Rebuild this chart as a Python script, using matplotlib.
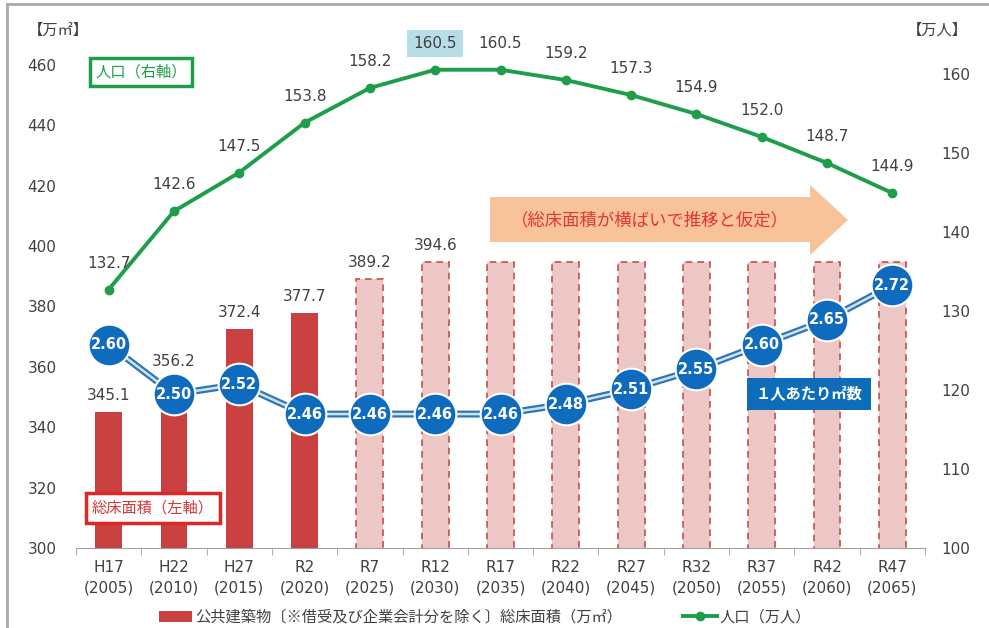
import matplotlib
matplotlib.use('Agg')
import matplotlib.pyplot as plt
from matplotlib.patches import Patch, Polygon, Rectangle
from matplotlib.lines import Line2D

# 数字は DejaVu、和文は Noto Sans CJK JP で描く
plt.rcParams['font.family'] = ['DejaVu Sans', 'Noto Sans CJK JP']

# 年度ごとのデータ
categories = ['H17\n(2005)', 'H22\n(2010)', 'H27\n(2015)', 'R2\n(2020)',
              'R7\n(2025)', 'R12\n(2030)', 'R17\n(2035)', 'R22\n(2040)',
              'R27\n(2045)', 'R32\n(2050)', 'R37\n(2055)', 'R42\n(2060)',
              'R47\n(2065)']
floor_area = [345.1, 356.2, 372.4, 377.7, 389.2, 394.6, 394.6,
              394.6, 394.6, 394.6, 394.6, 394.6, 394.6]
population = [132.7, 142.6, 147.5, 153.8, 158.2, 160.5, 160.5,
              159.2, 157.3, 154.9, 152.0, 148.7, 144.9]
per_capita = [2.60, 2.50, 2.52, 2.46, 2.46, 2.46, 2.46,
              2.48, 2.51, 2.55, 2.60, 2.65, 2.72]
n_actual = 4          # 実績値（以降は推計）
n_area_labels = 6     # 数値を表示する棒の数

W, H = 989, 628
TXT = '#404040'
RED = '#C94040'
PINK = '#EDC6C6'
GREEN = '#1E9E4A'
BLUE = '#0F6BBE'
JP = ['Noto Sans CJK JP', 'DejaVu Sans']


def px(x, y):
    """ピクセル位置を図座標に変換"""
    return x / W, 1 - y / H


fig = plt.figure(figsize=(W / 100, H / 100), dpi=100)
ax = fig.add_axes([76 / W, 1 - 548 / H, (925 - 76) / W, (548 - 65) / H])
x = list(range(len(categories)))

# 総床面積（左軸）
ax.bar(x[:n_actual], floor_area[:n_actual], width=0.41, color=RED, zorder=2)
ax.bar(x[n_actual:], floor_area[n_actual:], width=0.41, facecolor=PINK,
       edgecolor='#C0504D', linewidth=1.2, linestyle=(0, (4, 3)), zorder=2)
for i in range(n_area_labels):
    ax.annotate(f'{floor_area[i]:.1f}', (x[i], floor_area[i]),
                xytext=(0, 12), textcoords='offset points',
                ha='center', va='center', fontsize=11, color=TXT)

ax.set_xlim(-0.5, len(categories) - 0.5)
ax.set_ylim(300, 460)
ax.set_yticks(range(300, 461, 20))
ax.set_xticks(x)
ax.set_xticklabels(categories, fontsize=11, color=TXT, linespacing=1.45)
ax.set_xticks([i - 0.5 for i in range(len(categories) + 1)], minor=True)
ax.tick_params(axis='x', which='major', length=0, pad=9)
ax.tick_params(axis='x', which='minor', length=5, color='#A0A0A0')
ax.tick_params(axis='y', length=0, pad=14, labelsize=11, labelcolor=TXT)
for s in ['top', 'left', 'right']:
    ax.spines[s].set_visible(False)
ax.spines['bottom'].set_color('#A0A0A0')
ax.spines['bottom'].set_zorder(3)

# 人口（右軸）
ax2 = ax.twinx()
ax2.plot(x, population, color=GREEN, lw=2.8, marker='o', ms=6, zorder=3)
for i, v in enumerate(population):
    box = None
    if i == population.index(max(population)):
        box = dict(boxstyle='square,pad=0.4', fc='#B7DDE8', ec='none')
    ax2.annotate(f'{v:.1f}', (x[i], v), xytext=(0, 19),
                 textcoords='offset points', ha='center', va='center',
                 fontsize=11, color=TXT, bbox=box)
ax2.set_ylim(100, 161.1)
ax2.set_yticks(range(100, 161, 10))
ax2.tick_params(axis='y', length=0, pad=12, labelsize=11, labelcolor=TXT)
for s in ax2.spines.values():
    s.set_visible(False)

# 1人あたり床面積
ax3 = ax.twinx()
ax3.plot(x, per_capita, color='#2E75B6', lw=5, solid_capstyle='round', zorder=2)
ax3.plot(x, per_capita, color='#CFE2F3', lw=1.8, zorder=3)
ax3.plot(x, per_capita, ls='none', marker='o', ms=30, mfc=BLUE,
         mec='white', mew=1.5, zorder=4)
for i, v in enumerate(per_capita):
    ax3.text(x[i], v, f'{v:.2f}', ha='center', va='center', fontsize=10.5,
             fontweight='bold', color='white', zorder=5)
ax3.set_ylim(2.190, 3.1636)
ax3.axis('off')

# 単位
fig.text(*px(28, 30), '【万㎡】', fontsize=11, color=TXT, va='center', family=JP)
fig.text(*px(968, 30), '【万人】', fontsize=11, color=TXT, va='center',
         ha='right', family=JP)

# 凡例の補助ボックス
fig.text(*px(141, 72), '人口（右軸）', fontsize=11, color=GREEN,
         ha='center', va='center', family=JP,
         bbox=dict(boxstyle='square,pad=0.35', fc='white', ec=GREEN, lw=2.5))
fig.text(*px(153, 508), '総床面積（左軸）', fontsize=11, color='#D03A3A',
         ha='center', va='center', family=JP,
         bbox=dict(boxstyle='square,pad=0.4', fc='white', ec='#E02525', lw=2.5))
fig.text(*px(809, 394), '１人あたり㎡数', fontsize=11, color='white',
         fontweight='bold', ha='center', va='center', zorder=10, family=JP,
         bbox=dict(boxstyle='square,pad=0.55', fc='#0E6DB8', ec='none'))

# 推計期間の矢印
arrow_pts = [px(490, 197), px(810, 197), px(810, 185), px(848, 220),
             px(810, 255), px(810, 242), px(490, 242)]
fig.add_artist(Polygon(arrow_pts, closed=True, transform=fig.transFigure,
                       fc='#F8C39B', ec='none', zorder=1))
fig.text(*px(650, 220), '（総床面積が横ばいで推移と仮定）', fontsize=12.5,
         color='#E2382B', ha='center', va='center', family=JP)

# 凡例
handles = [Patch(facecolor=RED),
           Line2D([0], [0], color=GREEN, lw=2.8, marker='o', ms=6)]
labels = ['公共建築物〔※借受及び企業会計分を除く〕総床面積（万㎡）', '人口（万人）']
fig.legend(handles, labels, loc='center', bbox_to_anchor=px(485, 617), ncol=2,
           frameon=False, prop={'family': JP, 'size': 11}, columnspacing=4.0,
           handlelength=2.2, handletextpad=0.2, labelcolor=TXT)

# 外枠
fig.add_artist(Rectangle(px(7, 700), 1.2, (700 - 4) / H, transform=fig.transFigure,
                         fill=False, ec='#A8A8A8', lw=2))

fig.savefig('out.png', dpi=100)
